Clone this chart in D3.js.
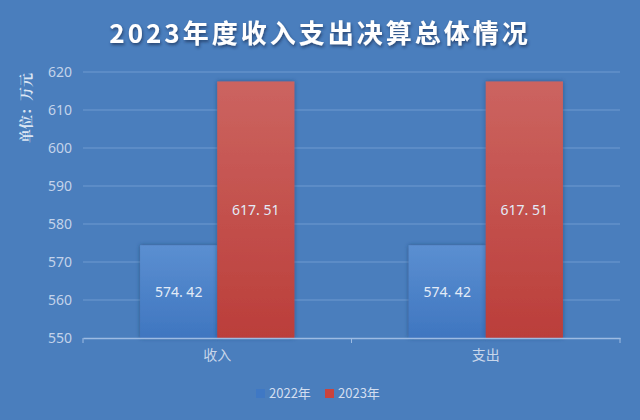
<!DOCTYPE html>
<html><head><meta charset="utf-8">
<script src="https://cdn.jsdelivr.net/npm/d3@7/dist/d3.min.js"></script>
<style>body{margin:0;background:#4a7ebd;}svg{display:block;}</style>
</head><body>
<svg id="c" width="640" height="420"></svg>
<script>
const categories = ["收入", "支出"];
const seriesNames = ["2022年", "2023年"];
const values2022 = [574.42, 574.42];
const values2023 = [617.51, 617.51];
const yTicks = [550, 560, 570, 580, 590, 600, 610, 620];
const title = "2023年度收入支出决算总体情况";
const unitLabel = "单位：万元";

const svg = d3.select("#c");
const W = 640, H = 420;
const x0 = 83, x1 = 620, yTop = 72, yBot = 338;

const defs = svg.append("defs");
const gB = defs.append("linearGradient").attr("id","gb").attr("x1",0).attr("y1",0).attr("x2",0).attr("y2",1);
gB.append("stop").attr("offset","0%").attr("stop-color","#5b8fd1");
gB.append("stop").attr("offset","100%").attr("stop-color","#3f76c0");
const gR = defs.append("linearGradient").attr("id","gr").attr("x1",0).attr("y1",0).attr("x2",0).attr("y2",1);
gR.append("stop").attr("offset","0%").attr("stop-color","#cc6460");
gR.append("stop").attr("offset","100%").attr("stop-color","#bb3e3a");
const sh = defs.append("filter").attr("id","sh").attr("x","-20%").attr("y","-20%").attr("width","140%").attr("height","140%");
sh.append("feDropShadow").attr("dx",0).attr("dy",0).attr("stdDeviation",2).attr("flood-color","#1d3a66").attr("flood-opacity",0.6);
const ts = defs.append("filter").attr("id","ts").attr("x","-10%").attr("y","-30%").attr("width","120%").attr("height","160%");
ts.append("feDropShadow").attr("dx",1).attr("dy",2).attr("stdDeviation",1.5).attr("flood-color","#1a2f55").attr("flood-opacity",0.7);

svg.append("rect").attr("width",W).attr("height",H).attr("fill","#4a7ebd");

const y = d3.scaleLinear().domain([550, 620]).range([yBot, yTop]);
const xb = d3.scaleBand().domain(categories).range([x0, x1]).paddingInner(0).paddingOuter(0);
const xs = d3.scaleBand().domain(seriesNames).range([0, xb.bandwidth()]).paddingInner(0).paddingOuter(0.74);

// grid
svg.append("g").selectAll("line").data(yTicks.slice(1)).join("line")
  .attr("x1", x0).attr("x2", x1).attr("y1", d => y(d)).attr("y2", d => y(d))
  .attr("stroke", "#6f9ad0").attr("stroke-width", 1);

// y labels
const yAxis = svg.append("g").attr("transform", `translate(${x0},0)`)
  .call(d3.axisLeft(y).tickValues(yTicks).tickSize(0).tickPadding(11));
yAxis.select(".domain").remove();
yAxis.selectAll("text").attr("fill", "#c3d3ea").attr("font-size", 14)
  .attr("font-family", "'Noto Sans', 'Noto Sans CJK SC', sans-serif");

// bars
const series = [
  {name: seriesNames[0], vals: values2022, fill: "url(#gb)"},
  {name: seriesNames[1], vals: values2023, fill: "url(#gr)"}
];
const fmt = d => d3.format(".2f")(d).replace(".", ". ");
series.forEach(s => {
  const g = svg.append("g");
  g.selectAll("rect").data(categories).join("rect")
    .attr("x", (c) => xb(c) + xs(s.name))
    .attr("width", xs.bandwidth())
    .attr("y", (c, i) => y(s.vals[i]))
    .attr("height", (c, i) => yBot - y(s.vals[i]))
    .attr("fill", s.fill).attr("filter", "url(#sh)");
  g.selectAll("text").data(categories).join("text")
    .attr("x", (c) => xb(c) + xs(s.name) + xs.bandwidth() / 2)
    .attr("y", (c, i) => (y(s.vals[i]) + yBot) / 2 + 5)
    .attr("text-anchor", "middle").attr("fill", "#e3ebf7").attr("font-size", 14)
    .attr("font-family", "'Noto Sans', 'Noto Sans CJK SC', sans-serif")
    .text((c, i) => fmt(s.vals[i]));
});

// x axis
const xAxis = svg.append("g").attr("transform", `translate(0,${yBot})`)
  .call(d3.axisBottom(xb).tickSize(0).tickPadding(12));
xAxis.select(".domain").attr("stroke", "#9dbbe2").attr("stroke-width", 1.5);
xAxis.selectAll("text").attr("fill", "#c8d6ea").attr("font-size", 14)
  .attr("font-family", "'Noto Sans CJK SC', sans-serif");
const tickX = [x0].concat(categories.map(c => xb(c) + xb.bandwidth()));
svg.append("g").selectAll("line").data(tickX).join("line")
  .attr("x1", d => d).attr("x2", d => d).attr("y1", yBot).attr("y2", yBot + 5)
  .attr("stroke", "#9dbbe2").attr("stroke-width", 1);

// title
svg.append("text").attr("x", 320).attr("y", 43).attr("text-anchor", "middle")
  .attr("fill", "#ffffff").attr("font-size", 26).attr("font-weight", "bold")
  .attr("letter-spacing", 3)
  .attr("font-family", "'Noto Sans CJK SC', sans-serif").attr("filter", "url(#ts)")
  .text(title);

// unit label
svg.append("text").attr("transform", "translate(31,108) rotate(-90)")
  .attr("text-anchor", "middle").attr("fill", "#dbe5f3").attr("font-size", 14)
  .attr("font-weight", "bold").attr("font-family", "'Noto Serif CJK SC', 'Noto Sans CJK SC', serif")
  .text(unitLabel);

// legend
const leg = [{name: seriesNames[0], c: "#3f78c4", x: 256}, {name: seriesNames[1], c: "#c9433d", x: 325}];
const lg = svg.append("g");
lg.selectAll("rect").data(leg).join("rect")
  .attr("x", d => d.x).attr("y", 389).attr("width", 9).attr("height", 9).attr("fill", d => d.c);
lg.selectAll("text").data(leg).join("text")
  .attr("x", d => d.x + 13).attr("y", 398).attr("fill", "#d3def0").attr("font-size", 13)
  .attr("font-family", "'Noto Sans CJK SC', sans-serif")
  .text(d => d.name);
</script>
</body></html>
